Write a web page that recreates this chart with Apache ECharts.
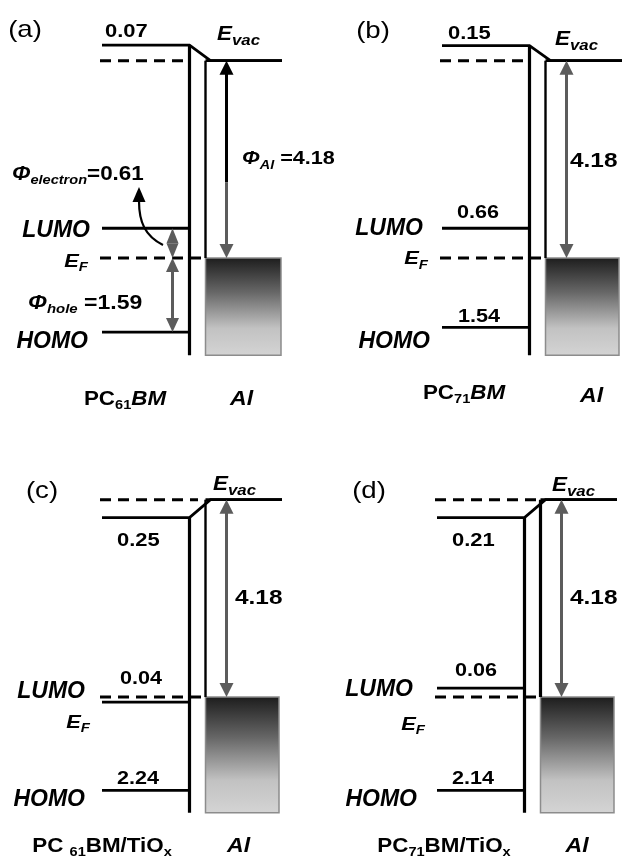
<!DOCTYPE html>
<html>
<head>
<meta charset="utf-8">
<script src="https://cdn.jsdelivr.net/npm/echarts@6.0.0/dist/echarts.min.js"></script>
<style>html,body{margin:0;padding:0;background:#fff}#c{width:622px;height:863px}</style>
</head>
<body>
<div id="c"></div>
<script>
// ---------------- data (energies in eV, relative to the Fermi level E_F = 0) ----------------
const panelTags       = ['(a)', '(b)', '(c)', '(d)'];
const organicNames    = ['PC61BM', 'PC71BM', 'PC 61BM/TiOx', 'PC71BM/TiOx'];
const metalNames      = ['Al', 'Al', 'Al', 'Al'];
const evacLevel       = [4.18, 4.18, 4.18, 4.18];     // Al vacuum level (Φ_Al)
const organicVacLevel = [4.51, 4.50, 3.80, 3.80];     // organic vacuum level as drawn
const lumoLevel       = [0.63, 0.63, -0.11, 0.19];    // LUMO as drawn
const homoLevel       = [-1.57, -1.47, -1.98, -1.98]; // HOMO as drawn
const stackBottom     = [-2.06, -2.06, -2.45, -2.45]; // lower end of the stack
const vacShiftLabels  = ['0.07', '0.15', '0.25', '0.21'];
const lumoLabels      = ['', '0.66', '0.04', '0.06'];
const homoLabels      = ['', '1.54', '2.24', '2.14'];
const workFunctionLabels = ['4.18', '4.18', '4.18', '4.18'];
const electronBarrier = '0.61';
const holeBarrier     = '1.59';

// ---------------- layout / style ----------------
const PX_PER_EV = 47.2, Y_MIN = -2.5, Y_MAX = 5.0;
const PANEL_GRID = [
  {left: 0,   top: 22,  width: 311},
  {left: 340, top: 22,  width: 282},
  {left: 0,   top: 461, width: 311},
  {left: 335, top: 461, width: 287}
];
const LAYOUT = {
  levelL: 102, thickX: 189.5, thinX: 205.5, arrowX: 226.5, evacR: 282, dashL: 100,
  boxR: [281, 279, 279, 279], topDashR: [190, 190, 198, 202], thinW: [2.4, 2.4, 2.4, 3.2],
  smallArrowX: 172.5, arrowSplitEv: 1.6
};
const TXT = {
  tag:     [[25, 8], [33, 9], [42, 30], [34, 30]],
  vacNum:  [[105, -13], [108, -11.5], [117, 23], [117, 23]],
  evac:    [[217, -26], [215, -21], [213, -15], [217, -14]],
  lumoTxt: [[90, -27], [83, -29.5], [85, -5.5], [78, -7]],
  efTxt:   [[88, 3.5], [88, 1], [90, 25.5], [90, 27.5]],
  homoTxt: [[88, 9.5], [90, 14.5], [85, 9.5], [82, 9.5]],
  lumoNum: [null, [117, -15], [120, -23], [120, -17]],
  homoNum: [null, [118, -10], [117, -11], [117, -11]],
  wf:      [[242, 0], [230, 2], [235, 0], [235, 0]],
  material:[[125, 377], [124, 371], [102, 385], [109, 385]],
  metal:   [[241.5, 377], [251.5, 374], [238.5, 385], [242, 385]]
};
const F = '"Liberation Sans", Arial, Helvetica, sans-serif';
const GRAY = '#5c5c5c';

function st(size, italic, weight, pad) {
  const s = {fontFamily: F, fontSize: size, fontStyle: italic ? 'italic' : 'normal',
             fontWeight: weight || 'bold', fill: '#000'};
  if (pad) s.padding = [pad, 0, 0, 0];
  return s;
}
function label(x, y, text, align, scaleX, base, rich) {
  const style = Object.assign({text: text, align: align, verticalAlign: 'middle'}, base);
  if (rich) style.rich = rich;
  return {type: 'text', x: x, y: y, scaleX: scaleX, style: style};
}
function ln(x1, y1, x2, y2, lw, color, dash) {
  const style = {stroke: color || '#000', lineWidth: lw};
  if (dash) style.lineDash = dash;
  return {type: 'line', shape: {x1, y1, x2, y2}, style: style};
}
function head(x, tipY, dir, w, h, color) { // dir -1 = pointing up, +1 = pointing down
  return {type: 'polygon', shape: {points: [[x, tipY], [x - w / 2, tipY - dir * h], [x + w / 2, tipY - dir * h]]},
          style: {fill: color}};
}
function materialRich(name) {
  const m = name.match(/^PC( ?)(\d+)BM(\/TiO)?(x)?$/);
  const rich = {n: st(20, false), s: st(13, false, 'bold', 13), i: st(20, true)};
  if (m[3]) return {text: '{n|PC' + m[1] + '}{s|' + m[2] + '}{n|BM' + m[3] + '}{s|x}', rich: rich};
  return {text: '{n|PC' + m[1] + '}{s|' + m[2] + '}{i|BM}', rich: rich};
}

function makeRender(p) {
  return function (params, api) {
    const cs = params.coordSys;
    const xOf = x => api.coord([x, 0])[0];
    const yOf = e => api.coord([0, e])[1];
    const yVac = yOf(evacLevel[p]), yOrg = yOf(organicVacLevel[p]), yEF = yOf(0),
          yL = yOf(lumoLevel[p]), yH = yOf(homoLevel[p]), yB = yOf(stackBottom[p]);
    const xL = xOf(LAYOUT.levelL), xT = xOf(LAYOUT.thickX), xN = xOf(LAYOUT.thinX),
          xBR = xOf(LAYOUT.boxR[p]), xER = xOf(LAYOUT.evacR), xA = xOf(LAYOUT.arrowX),
          xD = xOf(LAYOUT.dashL);
    const ch = [];
    ch.push({type: 'rect', shape: {x: xN, y: yEF, width: xBR - xN, height: yB - yEF},
      style: {fill: new echarts.graphic.LinearGradient(0, 0, 0, 1, [
        {offset: 0, color: '#1c1c1c'}, {offset: 0.35, color: '#666666'},
        {offset: 0.72, color: '#c2c2c2'}, {offset: 1, color: '#d4d4d4'}]),
        stroke: '#8c8c8c', lineWidth: 1.5}});
    ch.push({type: 'polyline', shape: {points: [[xL, yOrg], [xT, yOrg], [xN + 5, yVac], [xER, yVac]]},
             style: {stroke: '#000', lineWidth: 2.8, fill: null}});
    ch.push(ln(xN, yVac, xER, yVac, 2.8));
    ch.push(ln(xD, yVac, xOf(LAYOUT.topDashR[p]), yVac, 3, '#000', [11, 7]));
    ch.push(ln(xD, yEF, xN, yEF, 3, '#000', [11, 7]));
    ch.push(ln(xT, yOrg, xT, yB, 3.2));
    ch.push(ln(xN, yVac, xN, yEF, LAYOUT.thinW[p]));
    ch.push(ln(xL, yL, xT, yL, 2.8));
    ch.push(ln(xL, yH, xT, yH, 2.8));
    const hw = 14, hh = 14;
    if (p === 0) {
      const ySplit = yOf(LAYOUT.arrowSplitEv);
      ch.push(ln(xA, yVac + hh - 1, xA, ySplit, 3, '#000'));
      ch.push(ln(xA, ySplit, xA, yEF - hh + 1, 3, GRAY));
      ch.push(head(xA, yVac, -1, hw, hh, '#000'));
      ch.push(head(xA, yEF, 1, hw, hh, GRAY));
    } else {
      ch.push(ln(xA, yVac + hh - 1, xA, yEF - hh + 1, 3, GRAY));
      ch.push(head(xA, yVac, -1, hw, hh, GRAY));
      ch.push(head(xA, yEF, 1, hw, hh, GRAY));
    }
    const numStyle = st(18, false);
    const t = TXT;
    ch.push(label(xOf(t.tag[p][0]), cs.y + t.tag[p][1], panelTags[p], 'center', 1.15, st(24, false, 'normal')));
    ch.push(label(xOf(t.vacNum[p][0]), yOrg + t.vacNum[p][1], vacShiftLabels[p], 'left', 1.22, numStyle));
    ch.push(label(xOf(t.evac[p][0]), yVac + t.evac[p][1], '{e|E}{s|vac}', 'left', 1.12, st(20, true),
                  {e: st(20, true), s: st(15, true, 'bold', 12)}));
    ch.push(label(xOf(t.lumoTxt[p][0]), yEF + t.lumoTxt[p][1], 'LUMO', 'right', 1.0, st(23, true)));
    ch.push(label(xOf(t.efTxt[p][0]), yEF + t.efTxt[p][1], '{e|E}{s|F}', 'right', 1.15, st(19, true),
                  {e: st(19, true), s: st(13, true, 'bold', 12)}));
    ch.push(label(xOf(t.homoTxt[p][0]), yH + t.homoTxt[p][1], 'HOMO', 'right', 1.0, st(23, true)));
    if (lumoLabels[p]) ch.push(label(xOf(t.lumoNum[p][0]), yL + t.lumoNum[p][1], lumoLabels[p], 'left', 1.2, numStyle));
    if (homoLabels[p]) ch.push(label(xOf(t.homoNum[p][0]), yH + t.homoNum[p][1], homoLabels[p], 'left', 1.2, numStyle));
    const yMid = (yVac + yEF) / 2;
    if (p === 0) {
      ch.push(label(xOf(t.wf[p][0]), yMid + t.wf[p][1], '{p|Φ}{s|Al}{n| =' + workFunctionLabels[p] + '}', 'left', 1.2,
                    st(18, false), {p: st(18, true), s: st(12, true, 'bold', 12), n: st(18, false)}));
    } else {
      ch.push(label(xOf(t.wf[p][0]), yMid + t.wf[p][1], workFunctionLabels[p], 'left', 1.22, st(20, false)));
    }
    const mr = materialRich(organicNames[p]);
    ch.push(label(xOf(t.material[p][0]), cs.y + t.material[p][1], mr.text, 'center', 1.12, st(20, false), mr.rich));
    ch.push(label(xOf(t.metal[p][0]), cs.y + t.metal[p][1], metalNames[p], 'center', 1.1, st(21, true)));
    if (p === 0) {
      const xs = xOf(LAYOUT.smallArrowX);
      const yMidL = (yL + yEF) / 2;
      ch.push(head(xs, yL, -1, 12, yMidL - yL, GRAY));
      ch.push(head(xs, yEF, 1, 12, yEF - yMidL, GRAY));
      ch.push(ln(xs, yEF + 13, xs, yH - 13, 3, GRAY));
      ch.push(head(xs, yEF, -1, 13, 14, GRAY));
      ch.push(head(xs, yH, 1, 13, 14, GRAY));
      ch.push({type: 'bezierCurve', shape: {x1: xOf(163), y1: yEF - 13, cpx1: xOf(145), cpy1: yEF - 22,
               cpx2: xOf(139), cpy2: yEF - 36, x2: xOf(139), y2: yEF - 57},
               style: {stroke: '#000', lineWidth: 2.2, fill: null}});
      ch.push(head(xOf(139), yEF - 71, -1, 13, 15, '#000'));
      ch.push(label(xOf(12), yEF - 84, '{p|Φ}{s|electron}{n|=' + electronBarrier + '}', 'left', 1.12,
                    st(20, false), {p: st(20, true), s: st(13, true, 'bold', 12), n: st(20, false)}));
      ch.push(label(xOf(28), yEF + 45, '{p|Φ}{s|hole}{n| =' + holeBarrier + '}', 'left', 1.15,
                    st(20, false), {p: st(20, true), s: st(13, true, 'bold', 12), n: st(20, false)}));
    }
    return {type: 'group', children: ch};
  };
}

const chart = echarts.init(document.getElementById('c'), null, {renderer: 'canvas'});
const grids = [], xAxes = [], yAxes = [], series = [];
PANEL_GRID.forEach((g, i) => {
  grids.push({left: g.left, top: g.top, width: g.width, height: (Y_MAX - Y_MIN) * PX_PER_EV});
  xAxes.push({type: 'value', gridIndex: i, min: 0, max: g.width, show: false});
  yAxes.push({type: 'value', gridIndex: i, min: Y_MIN, max: Y_MAX, show: false});
  series.push({type: 'custom', coordinateSystem: 'cartesian2d', xAxisIndex: i, yAxisIndex: i,
               clip: false, silent: true, data: [[0, evacLevel[i]]], renderItem: makeRender(i)});
});
chart.setOption({animation: false, backgroundColor: '#fff', grid: grids, xAxis: xAxes, yAxis: yAxes, series: series});
</script>
</body>
</html>
